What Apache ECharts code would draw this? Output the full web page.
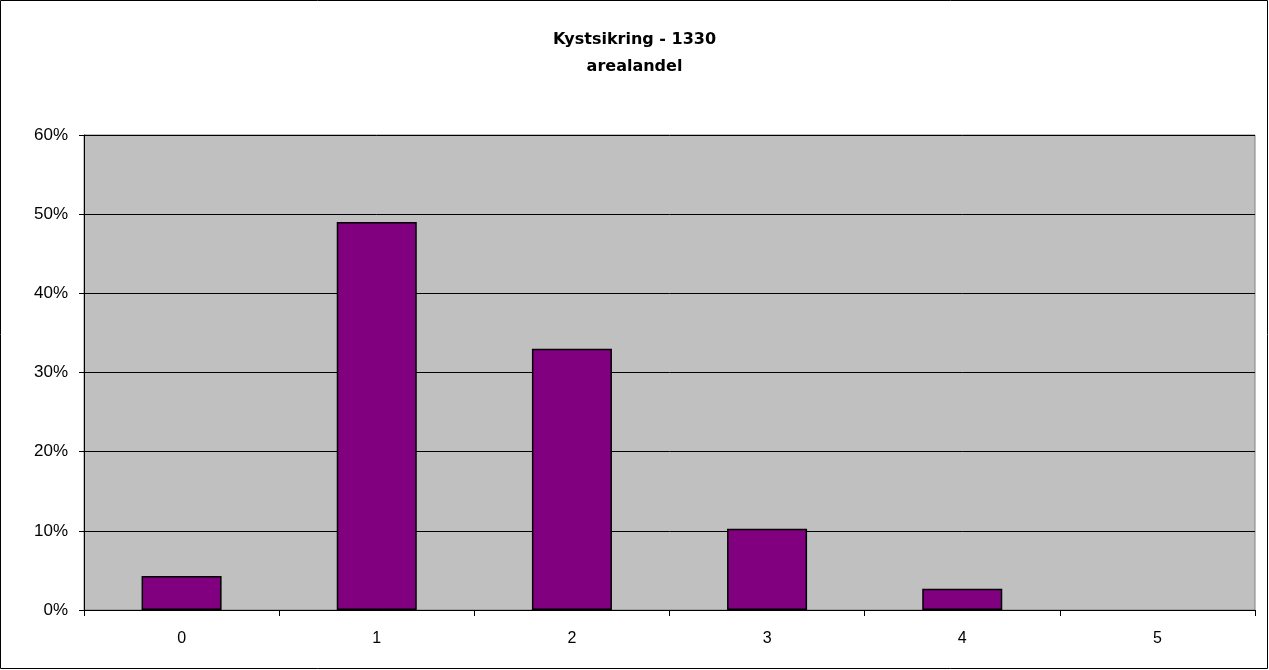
<!DOCTYPE html>
<html>
<head>
<meta charset="utf-8">
<script src="https://cdn.jsdelivr.net/npm/echarts@6/dist/echarts.min.js"></script>
<style>
  html, body { margin: 0; padding: 0; background: #fff; }
  #chart { width: 1269px; height: 670px; }
</style>
</head>
<body>
<div id="chart"></div>
<script>
// data
const categories = ['0', '1', '2', '3', '4', '5']
const arealandel = [0.043, 0.490, 0.330, 0.1025, 0.027, 0]
const titleLines = ['Kystsikring - 1330', 'arealandel']

const chart = echarts.init(document.getElementById('chart'))
chart.setOption({
  animation: false,
  textStyle: { fontFamily: 'Liberation Sans, Arial, sans-serif', color: '#000' },
  title: {
    text: titleLines.join('\n'),
    left: 'center',
    top: 21,
    textStyle: {
      fontFamily: 'DejaVu Sans',
      fontSize: 16,
      fontWeight: 'bold',
      color: '#000',
      lineHeight: 27
    }
  },
  graphic: [
    {
      type: 'rect',
      shape: { x: 0.5, y: 0.5, width: 1267, height: 668 },
      style: { fill: 'none', stroke: '#000', lineWidth: 1 },
      silent: true
    }
  ],
  grid: {
    left: 84,
    right: 14,
    top: 135,
    bottom: 60,
    show: true,
    backgroundColor: '#C0C0C0',
    borderColor: '#808080',
    borderWidth: 1
  },
  xAxis: {
    type: 'category',
    data: categories,
    axisLine: { show: true, lineStyle: { color: '#000', width: 1 } },
    axisTick: { show: true, length: 6, lineStyle: { color: '#000' } },
    axisLabel: { color: '#000', fontSize: 16, margin: 21 },
    splitLine: { show: false }
  },
  yAxis: {
    type: 'value',
    min: 0,
    max: 0.6,
    interval: 0.1,
    axisLine: { show: true, lineStyle: { color: '#000', width: 1 } },
    axisTick: { show: true, length: 5, lineStyle: { color: '#000' } },
    axisLabel: {
      color: '#000',
      fontSize: 17,
      margin: 16,
      formatter: v => Math.round(v * 100) + '%'
    },
    splitLine: { show: true, lineStyle: { color: '#000', width: 1 } }
  },
  series: [
    {
      type: 'bar',
      // zero values are left undrawn, as in the original
      data: arealandel.map(v => (v === 0 ? '-' : v)),
      barWidth: '41%',
      itemStyle: { color: '#800080', borderColor: '#000', borderWidth: 1.5 }
    }
  ]
})
</script>
</body>
</html>
